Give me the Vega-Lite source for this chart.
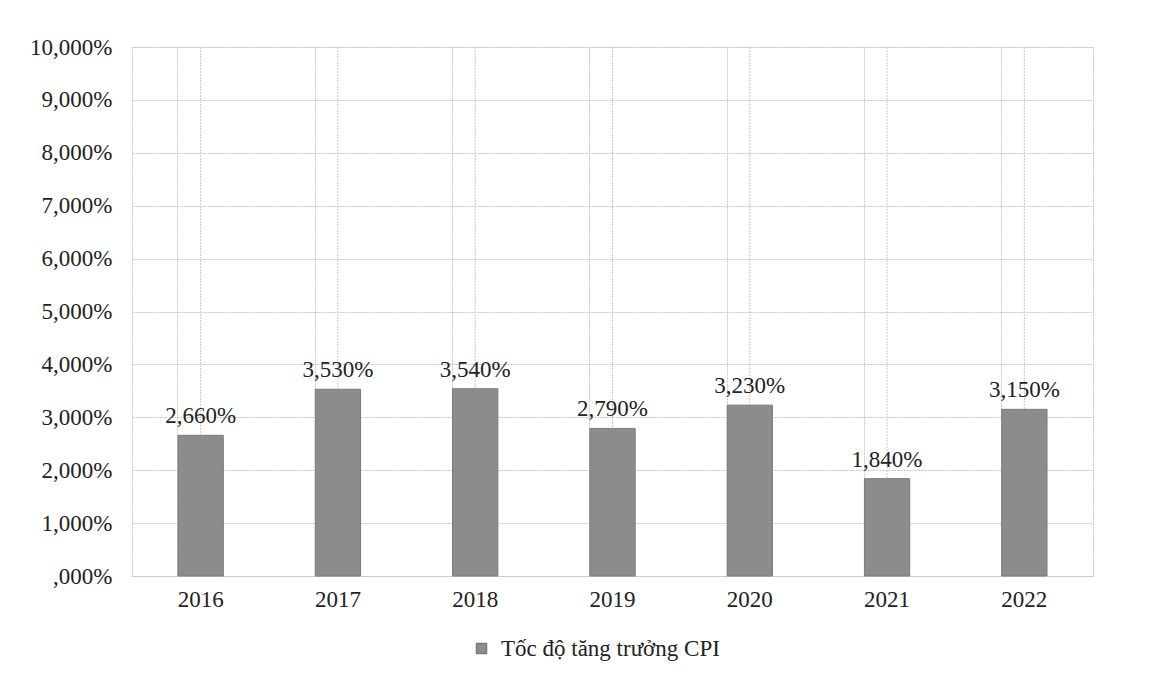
{
  "$schema": "https://vega.github.io/schema/vega-lite/v6.json",
  "width": 961,
  "height": 529,
  "autosize": {"type": "none"},
  "padding": {"left": 132, "top": 47, "right": 67, "bottom": 112},
  "background": "#ffffff",
  "config": {
    "font": "Times New Roman, Liberation Serif, serif",
    "view": {"stroke": "#c8c8c8", "strokeDash": [2, 1]},
    "axis": {"labelFont": "Times New Roman, Liberation Serif, serif", "labelColor": "#222222", "labelFontSize": 23}
  },
  "data": {
    "values": [
      {"year": "2016", "cpi": 2.66, "label": "2,660%", "series": "Tốc độ tăng trưởng CPI"},
      {"year": "2017", "cpi": 3.53, "label": "3,530%", "series": "Tốc độ tăng trưởng CPI"},
      {"year": "2018", "cpi": 3.54, "label": "3,540%", "series": "Tốc độ tăng trưởng CPI"},
      {"year": "2019", "cpi": 2.79, "label": "2,790%", "series": "Tốc độ tăng trưởng CPI"},
      {"year": "2020", "cpi": 3.23, "label": "3,230%", "series": "Tốc độ tăng trưởng CPI"},
      {"year": "2021", "cpi": 1.84, "label": "1,840%", "series": "Tốc độ tăng trưởng CPI"},
      {"year": "2022", "cpi": 3.15, "label": "3,150%", "series": "Tốc độ tăng trưởng CPI"}
    ]
  },
  "encoding": {
    "x": {
      "field": "year",
      "type": "ordinal",
      "scale": {"paddingInner": 0.67, "paddingOuter": 0.335},
      "axis": {
        "title": null,
        "labelAngle": 0,
        "domain": false,
        "ticks": false,
        "labelPadding": 12,
        "grid": true,
        "bandPosition": 0,
        "gridColor": "#c8c8c8",
        "gridDash": [2, 1]
      }
    }
  },
  "layer": [
    {
      "mark": {"type": "rule", "color": "#c8c8c8", "strokeDash": [2, 1], "strokeWidth": 1},
      "encoding": {}
    },
    {
      "mark": {"type": "bar", "stroke": "#7a7a7a", "strokeWidth": 1},
      "encoding": {
        "y": {
          "field": "cpi",
          "type": "quantitative",
          "scale": {"domain": [0, 10], "nice": false},
          "axis": {
            "title": null,
            "values": [0, 1, 2, 3, 4, 5, 6, 7, 8, 9, 10],
            "domain": false,
            "ticks": false,
            "labelPadding": 20,
            "gridColor": "#c8c8c8",
            "gridDash": [2, 1],
            "labelExpr": "datum.value == 0 ? ',000%' : replace(format(datum.value, '.3f'), '.', ',') + '%'"
          }
        },
        "color": {
          "field": "series",
          "type": "nominal",
          "scale": {"range": ["#8c8c8c"]},
          "legend": {
            "title": null,
            "orient": "none",
            "legendX": 338,
            "legendY": 590,
            "symbolType": "square",
            "symbolSize": 100,
            "labelFont": "Times New Roman, Liberation Serif, serif",
            "labelFontSize": 23,
            "labelColor": "#222222",
            "labelOffset": 8,
            "labelLimit": 0
          }
        }
      }
    },
    {
      "mark": {"type": "text", "baseline": "bottom", "dy": -7, "fontSize": 23, "font": "Times New Roman, Liberation Serif, serif", "color": "#222222"},
      "encoding": {
        "y": {"field": "cpi", "type": "quantitative"},
        "text": {"field": "label"}
      }
    }
  ]
}
